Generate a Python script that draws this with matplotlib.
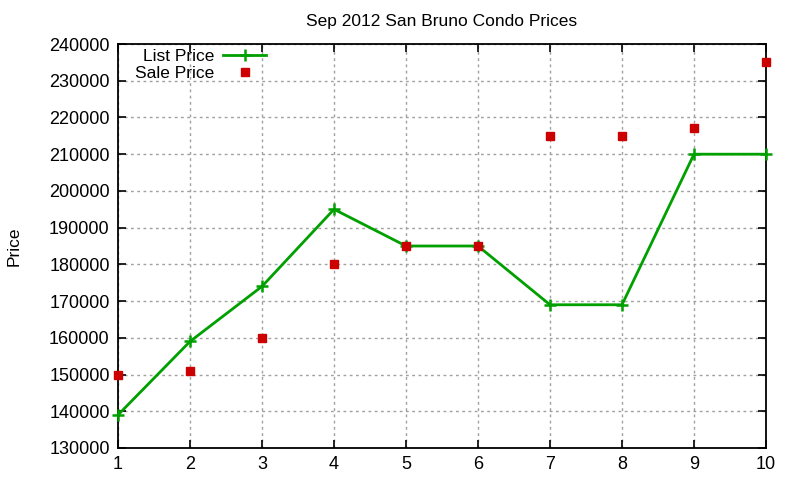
import matplotlib
matplotlib.use("Agg")
import matplotlib.pyplot as plt
import numpy as np

# data
sales = [1, 2, 3, 4, 5, 6, 7, 8, 9, 10]
list_price = [139000, 159000, 174000, 195000, 185000, 185000, 169000, 169000, 210000, 210000]
sale_price = [150000, 151000, 160000, 180000, 185000, 185000, 215000, 215000, 217000, 235000]

plt.rcParams['font.family'] = ['Liberation Sans', 'DejaVu Sans']

fig = plt.figure(figsize=(8, 4.8), dpi=100)
ax = fig.add_axes([0.1475, 0.0667, 0.81, 0.8416])

ax.plot(sales, list_price, color='#00a000', lw=2, marker='+', ms=8, mew=1.8,
        label='List Price', zorder=3, clip_on=False)
ax.plot(sales, sale_price, ls='none', color='#cc0000', marker='s', ms=5.8,
        label='Sale Price', zorder=4, clip_on=False)

ax.set_xlim(1, 10)
ax.set_ylim(130000, 240000)
ax.set_xticks(range(1, 11))
ax.set_yticks(range(130000, 240001, 10000))
ax.tick_params(direction='in', top=True, right=True, labelsize=13, length=6, width=1.2)
ax.tick_params(axis='x', pad=6)
ax.tick_params(axis='y', pad=6)
for s in ax.spines.values():
    s.set_linewidth(1.3)

ax.grid(True, color='#a0a0a0', ls=(0, (2, 2.5)), lw=1)
ax.set_axisbelow(True)

ax.set_title('Sep 2012 San Bruno Condo Prices', fontsize=12.5, pad=13)
ax.set_ylabel('Price', fontsize=12.5, labelpad=20)

ax.legend(loc='upper right', bbox_to_anchor=(0.237, 1.0), frameon=False, markerfirst=False,
          fontsize=12.5, handlelength=2.5, labelspacing=0.1, borderaxespad=0.0,
          borderpad=0.3, handletextpad=0.5)

fig.savefig('out.png', dpi=100)
